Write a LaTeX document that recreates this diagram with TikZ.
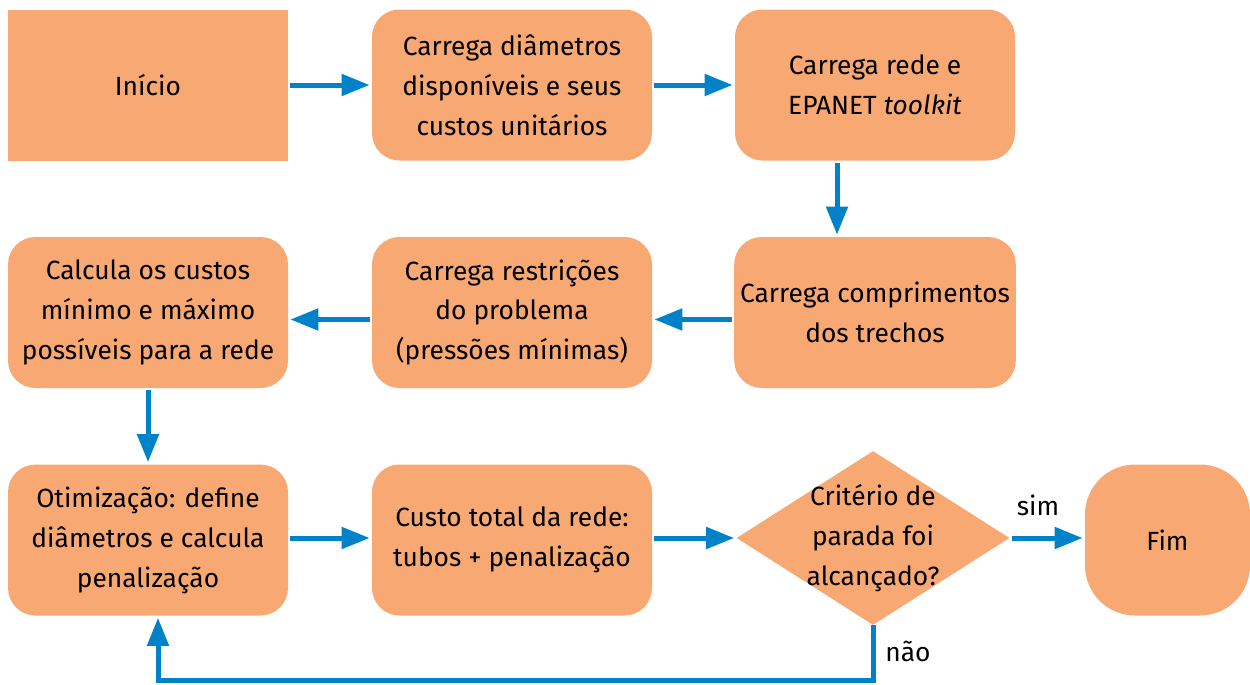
\documentclass[tikz,border=0pt]{standalone}
\usepackage{fontspec}
\setmainfont{Fira Sans}
\usetikzlibrary{arrows.meta,shapes.geometric}
\definecolor{caixa}{HTML}{F8A872}
\definecolor{azul}{HTML}{0082C8}

\begin{document}
\begin{tikzpicture}[
	texto/.style={font=\fontsize{15}{22.7}\selectfont,align=center},
	bloco/.style={texto,fill=caixa,rounded corners=0.55cm,minimum width=5.6cm,minimum height=3.02cm},
	inicio/.style={bloco,rounded corners=0pt},
	fim/.style={bloco,rounded corners=1cm,minimum width=3.3cm},
	decisao/.style={diamond,fill=caixa,minimum width=5.46cm,minimum height=3.48cm,inner sep=0pt},
	fluxo/.style={draw=azul,line width=0.1cm,-{Triangle[length=0.56cm,width=0.42cm]},shorten <=0.04cm,shorten >=0.04cm}]
	\useasboundingbox (0,0) rectangle (25,-13.68);
	\node at (2.96,-1.70)[inicio] (ini) {Início};
	\node at (10.24,-1.70)[bloco] (diam) {Carrega diâmetros\\disponíveis e seus\\custos unitários};
	\node at (17.5,-1.70)[bloco] (rede) {Carrega rede e\\EPANET \textit{toolkit}};
	\node at (17.5,-6.25)[bloco] (compr) {Carrega comprimentos\\dos trechos};
	\node at (10.24,-6.25)[bloco] (restr) {Carrega restrições\\do problema\\(pressões mínimas)};
	\node at (2.96,-6.25)[bloco] (custos) {Calcula os custos\\mínimo e máximo\\possíveis para a rede};
	\node at (2.96,-10.8)[bloco] (otim) {Otimização: define\\diâmetros e calcula\\penalização};
	\node at (10.24,-10.8)[bloco] (total) {Custo total da rede:\\tubos + penalização};
	\node at (17.46,-10.76)[decisao,label={[texto]center:Critério de\\parada foi\\alcançado?}] (crit) {};
	\node at (23.35,-10.8)[fim] (fim) {Fim};
	\node at (20.76,-10.1)[texto] (sim) {sim};
	\node at (18.16,-13.02)[texto] (nao) {não};
	\draw[fluxo] (ini) -- (diam);
	\draw[fluxo] (diam) -- (rede);
	\draw[fluxo] ([xshift=-0.76cm]rede.south) -- ([xshift=-0.76cm]compr.north);
	\draw[fluxo] ([yshift=-0.14cm]compr.west) -- ([yshift=-0.14cm]restr.east);
	\draw[fluxo] ([yshift=-0.14cm]restr.west) -- ([yshift=-0.14cm]custos.east);
	\draw[fluxo] (custos) -- (otim);
	\draw[fluxo] (otim.east |- crit) -- (total.west |- crit);
	\draw[fluxo] (total.east |- crit) -- (crit.west);
	\draw[fluxo] (crit.east) -- (crit.east -| fim.west);
	\draw[fluxo,shorten <=0pt] (crit.south) -- ++(0,-1.1) -| ([xshift=0.2cm]otim.south);
\end{tikzpicture}
\end{document}
